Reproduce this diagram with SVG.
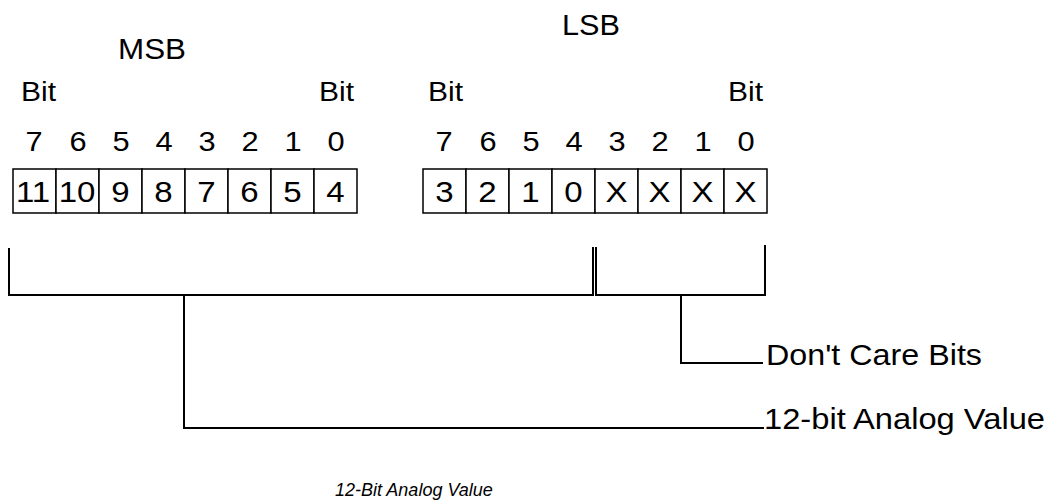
<svg xmlns="http://www.w3.org/2000/svg" width="1051" height="502" viewBox="0 0 1051 502">
<style>
text{font-family:"Liberation Sans",Arial,sans-serif;fill:#000}
.hd{font-size:29px}
.bit{font-size:27px}
.num{font-size:28px;text-anchor:middle}
.cell{font-size:30px;text-anchor:middle}
.lbl{font-size:30px}
.cap{font-size:18px;font-style:italic}
.c{fill:#fff;stroke:#000;stroke-width:1.5}
.ln{fill:none;stroke:#000;stroke-width:2}
</style>
<rect width="1051" height="502" fill="#fff"/>
<g id="headers">
<text class="hd" x="118" y="59" textLength="68" lengthAdjust="spacingAndGlyphs">MSB</text>
<text class="hd" x="562" y="35" textLength="58" lengthAdjust="spacingAndGlyphs">LSB</text>
<text class="bit" x="21" y="101" textLength="35" lengthAdjust="spacingAndGlyphs">Bit</text>
<text class="bit" x="319" y="101" textLength="35" lengthAdjust="spacingAndGlyphs">Bit</text>
<text class="bit" x="428" y="101" textLength="35" lengthAdjust="spacingAndGlyphs">Bit</text>
<text class="bit" x="728" y="101" textLength="35" lengthAdjust="spacingAndGlyphs">Bit</text>
</g>
<g id="msb-byte">
<text class="num" transform="translate(34,151) scale(1.1,1)">7</text>
<text class="num" transform="translate(78,151) scale(1.1,1)">6</text>
<text class="num" transform="translate(121,151) scale(1.1,1)">5</text>
<text class="num" transform="translate(164,151) scale(1.1,1)">4</text>
<text class="num" transform="translate(207,151) scale(1.1,1)">3</text>
<text class="num" transform="translate(250,151) scale(1.1,1)">2</text>
<text class="num" transform="translate(293,151) scale(1.1,1)">1</text>
<text class="num" transform="translate(336,151) scale(1.1,1)">0</text>
<rect class="c" x="13" y="169" width="43" height="44"/>
<rect class="c" x="56" y="169" width="43" height="44"/>
<rect class="c" x="99" y="169" width="43" height="44"/>
<rect class="c" x="142" y="169" width="43" height="44"/>
<rect class="c" x="185" y="169" width="43" height="44"/>
<rect class="c" x="228" y="169" width="43" height="44"/>
<rect class="c" x="271" y="169" width="43" height="44"/>
<rect class="c" x="314" y="169" width="43" height="44"/>
<text class="cell" transform="translate(33,202) scale(1.1,1)">11</text>
<text class="cell" transform="translate(77,202) scale(1.1,1)">10</text>
<text class="cell" transform="translate(120.5,202) scale(1.1,1)">9</text>
<text class="cell" transform="translate(163.5,202) scale(1.1,1)">8</text>
<text class="cell" transform="translate(206.5,202) scale(1.1,1)">7</text>
<text class="cell" transform="translate(249.5,202) scale(1.1,1)">6</text>
<text class="cell" transform="translate(292.5,202) scale(1.1,1)">5</text>
<text class="cell" transform="translate(335.5,202) scale(1.1,1)">4</text>
</g>
<g id="lsb-byte">
<text class="num" transform="translate(444,151) scale(1.1,1)">7</text>
<text class="num" transform="translate(488,151) scale(1.1,1)">6</text>
<text class="num" transform="translate(531,151) scale(1.1,1)">5</text>
<text class="num" transform="translate(574,151) scale(1.1,1)">4</text>
<text class="num" transform="translate(617,151) scale(1.1,1)">3</text>
<text class="num" transform="translate(660,151) scale(1.1,1)">2</text>
<text class="num" transform="translate(703,151) scale(1.1,1)">1</text>
<text class="num" transform="translate(746,151) scale(1.1,1)">0</text>
<rect class="c" x="423" y="169" width="43" height="44"/>
<rect class="c" x="466" y="169" width="43" height="44"/>
<rect class="c" x="509" y="169" width="43" height="44"/>
<rect class="c" x="552" y="169" width="43" height="44"/>
<rect class="c" x="595" y="169" width="43" height="44"/>
<rect class="c" x="638" y="169" width="43" height="44"/>
<rect class="c" x="681" y="169" width="43" height="44"/>
<rect class="c" x="724" y="169" width="43" height="44"/>
<text class="cell" transform="translate(444.5,202) scale(1.1,1)">3</text>
<text class="cell" transform="translate(487.5,202) scale(1.1,1)">2</text>
<text class="cell" transform="translate(530.5,202) scale(1.1,1)">1</text>
<text class="cell" transform="translate(573.5,202) scale(1.1,1)">0</text>
<text class="cell" transform="translate(616.5,202) scale(1.1,1)">X</text>
<text class="cell" transform="translate(659.5,202) scale(1.1,1)">X</text>
<text class="cell" transform="translate(702.5,202) scale(1.1,1)">X</text>
<text class="cell" transform="translate(745.5,202) scale(1.1,1)">X</text>
</g>
<g id="connectors">
<path class="ln" d="M9,248 V295 H593 V247"/>
<path class="ln" d="M596,247 V295 H765 V245"/>
<path class="ln" d="M184,295 V428 H764"/>
<path class="ln" d="M681,295 V363 H763"/>
</g>
<g id="label-dontcare">
<text class="lbl" x="766" y="365" textLength="216" lengthAdjust="spacingAndGlyphs">Don't Care Bits</text>
</g>
<g id="label-analog">
<text class="lbl" x="764" y="429" textLength="281" lengthAdjust="spacingAndGlyphs">12-bit Analog Value</text>
</g>
<g id="caption">
<text class="cap" x="335" y="496">12-Bit Analog Value</text>
</g>
</svg>
